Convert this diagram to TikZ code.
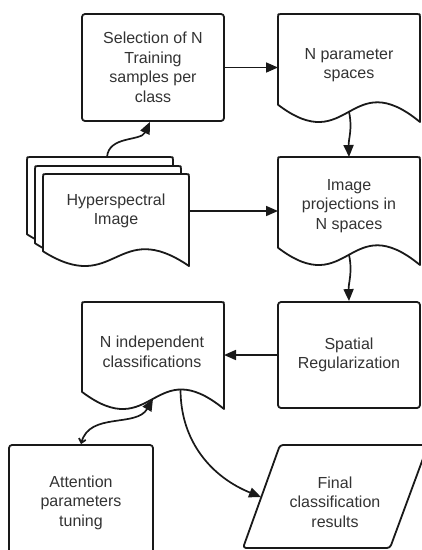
\documentclass[tikz,border=0pt]{standalone}
\usepackage{fontspec}
\setmainfont{Liberation Sans}
\usetikzlibrary{arrows.meta}
\tikzset{
  shapeline/.style={draw=black!90, line width=1.8pt, line join=round},
  txt/.style={align=center, text=black!80, font=\fontsize{16}{19.5}\selectfont, inner sep=0pt},
  boxnode/.style={shapeline, rounded corners=3pt, fill=white, txt},
  arr/.style={line width=1.7pt, draw=black!90, -{Triangle[length=12pt,width=10pt]}},
  arrboth/.style={line width=1.7pt, draw=black!90, {Straight Barb[length=4pt,width=7pt]}-{Triangle[length=12pt,width=10pt]}},
}
% document shape: x y w h name
\newcommand{\DocShape}[5]{%
  \draw[shapeline,fill=white]
    (#1,#2+0.84*#4) -- (#1,#2+3) .. controls (#1,#2) .. (#1+3,#2)
    -- (#1+#3-3,#2) .. controls (#1+#3,#2) .. (#1+#3,#2+3)
    -- (#1+#3,#2+#4)
    .. controls (#1+0.5*#3,#2+0.46*#4) and (#1+0.5*#3,#2+1.34*#4) ..
       node[coordinate,pos=0.5] (#5-b) {} node[coordinate,pos=0.26] (#5-r) {}
    (#1,#2+0.84*#4) -- cycle;}
\begin{document}
\begin{tikzpicture}[x=1pt,y=-1pt]
\useasboundingbox (0,0) rectangle (422,550);

% Selection box
\node[boxnode, minimum width=142pt, minimum height=107pt] (sel) at (153,67.5)
  {Selection of N\\Training\\samples per\\class};

% N parameter spaces
\DocShape{278}{14}{142}{108}{par}
\node[txt] (partxt) at (349,65) {N parameter\\spaces};

% Hyperspectral stacked documents
\DocShape{27}{157}{146}{92}{hb}
\DocShape{35}{166}{146}{92}{hm}
\DocShape{43}{174}{146}{92}{hf}
\node[txt] (hyp) at (116,211) {Hyperspectral\\Image};
\coordinate (hb-t) at (107,157);
\coordinate (hf-e) at (189,211);

% Image projections
\DocShape{278}{157}{142}{108}{proj}
\node[txt] (projtxt) at (349,206) {Image\\projections in\\N spaces};
\coordinate (proj-t) at (349,157);
\coordinate (proj-w) at (278,211);
\coordinate (par-w) at (278,67.5);

% Spatial Regularization
\node[boxnode, minimum width=142pt, minimum height=106pt] (spat) at (349,355)
  {Spatial\\Regularization};

% N independent classifications
\DocShape{82}{302}{142}{107}{ind}
\node[txt] (indtxt) at (152,352) {N independent\\classifications};
\coordinate (ind-e) at (224,355);

% Attention parameters tuning
\node[boxnode, minimum width=144pt, minimum height=115pt] (att) at (81,502.5)
  {Attention\\parameters\\tuning};

% Final classification results
\draw[shapeline, fill=white, rounded corners=3pt]
  (280,445) -- (428,445) -- (390,548) -- (243,548) -- cycle;
\node[txt] (fin) at (335,502) {Final\\classification\\results};
\coordinate (fin-l) at (261,497);

% Connectors
\draw[arr] (sel.east) -- (par-w);
\draw[arr] (hb-t) to[out=85,in=-115] ([xshift=-3pt]sel.south);
\draw[arr] (par-b) to[out=-78,in=92] (proj-t);
\draw[arr] (hf-e) -- (proj-w);
\draw[arr] (proj-b) to[out=-78,in=92] (spat.north);
\draw[arr] (spat.west) -- (ind-e);
\draw[arr] (ind-r) to[out=-90,in=158] (fin-l);
\draw[arrboth] (att.north) to[out=75,in=-120] (ind-b);
\end{tikzpicture}
\end{document}
